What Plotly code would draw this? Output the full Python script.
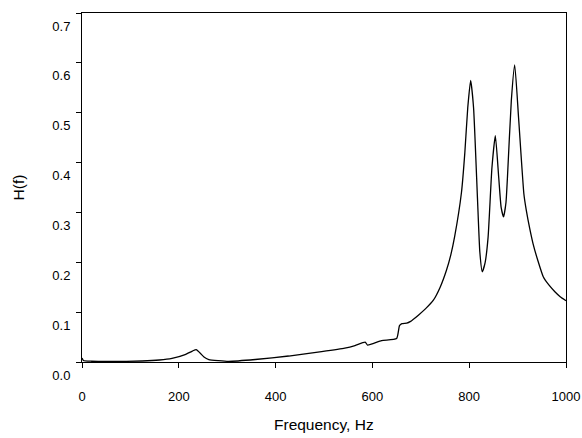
import plotly.graph_objects as go

# frequency response
freq = [0, 3, 20, 60, 124, 160, 186, 213, 228, 236, 244, 252, 262, 282, 303,
        358, 427, 495, 543, 564, 585, 590, 619, 650, 656, 661, 671, 678, 695,
        710, 726, 740, 753, 762, 770, 784, 791, 797, 803, 809, 817, 822, 827, 833,
        839, 847, 854, 861, 866, 871, 876, 879, 887, 894, 902, 913, 918, 925, 932,
        942, 953, 965, 977, 988, 1000]
h = [0.008, 0.003, 0.0015, 0.001, 0.002, 0.004, 0.0073, 0.015, 0.022, 0.025, 0.018,
     0.010, 0.005, 0.0027, 0.0013, 0.005, 0.012, 0.021, 0.028, 0.033, 0.040, 0.034,
     0.043, 0.047, 0.073, 0.077, 0.078, 0.081, 0.094,
     0.107, 0.124, 0.150, 0.184, 0.215, 0.252, 0.34, 0.42, 0.51, 0.565, 0.51, 0.33,
     0.22, 0.181, 0.20, 0.25, 0.39, 0.454, 0.37, 0.31, 0.291, 0.32, 0.37, 0.524,
     0.596, 0.49, 0.337, 0.304, 0.268, 0.237,
     0.203, 0.171, 0.154, 0.141, 0.131, 0.123]

x_ticks = [0, 200, 400, 600, 800, 1000]
y_ticks = [0.0, 0.1, 0.2, 0.3, 0.4, 0.5, 0.6, 0.7]

font = "Liberation Sans, Arial, sans-serif"

fig = go.Figure()
fig.add_trace(go.Scatter(x=freq, y=h, mode="lines",
                         line=dict(color="black", width=1.3, shape="spline", smoothing=0.5),
                         hoverinfo="skip"))

fig.update_layout(
    width=582, height=438,
    margin=dict(l=81.5, r=16, t=13, b=76, autoexpand=False),
    plot_bgcolor="white", paper_bgcolor="white",
    showlegend=False,
    font=dict(family=font, size=13, color="black"),
)
fig.update_xaxes(range=[0, 1000], tickvals=x_ticks, ticktext=[str(v) for v in x_ticks],
                 showgrid=False, zeroline=False, showline=True, linecolor="black",
                 linewidth=1, mirror=True, ticks="outside", ticklen=5, tickcolor="black",
                 ticklabelstandoff=17, automargin=False, ticklabeloverflow="allow")
fig.update_yaxes(range=[0, 0.7], tickvals=y_ticks, ticktext=[f"{v:.1f}" for v in y_ticks],
                 showgrid=False, zeroline=False, showline=True, linecolor="black",
                 linewidth=1, mirror=True, ticks="outside", ticklen=5, tickcolor="black",
                 ticklabelshift=13, ticklabelstandoff=3, automargin=False,
                 ticklabeloverflow="allow")

fig.add_annotation(text="Frequency, Hz", xref="paper", yref="paper", x=0.5, y=-0.1805,
                   yanchor="middle", showarrow=False, font=dict(size=15.5))
fig.add_annotation(text="H(f)", xref="paper", yref="paper", x=-0.131, y=0.499,
                   xanchor="center", yanchor="middle", textangle=-90, showarrow=False,
                   font=dict(size=15.5))

# drop the default page margin so the figure sits at the window's corner
fig.write_html("out.html", config={"displayModeBar": False},
               post_script="document.body.style.margin='0';document.body.style.overflow='hidden';")
